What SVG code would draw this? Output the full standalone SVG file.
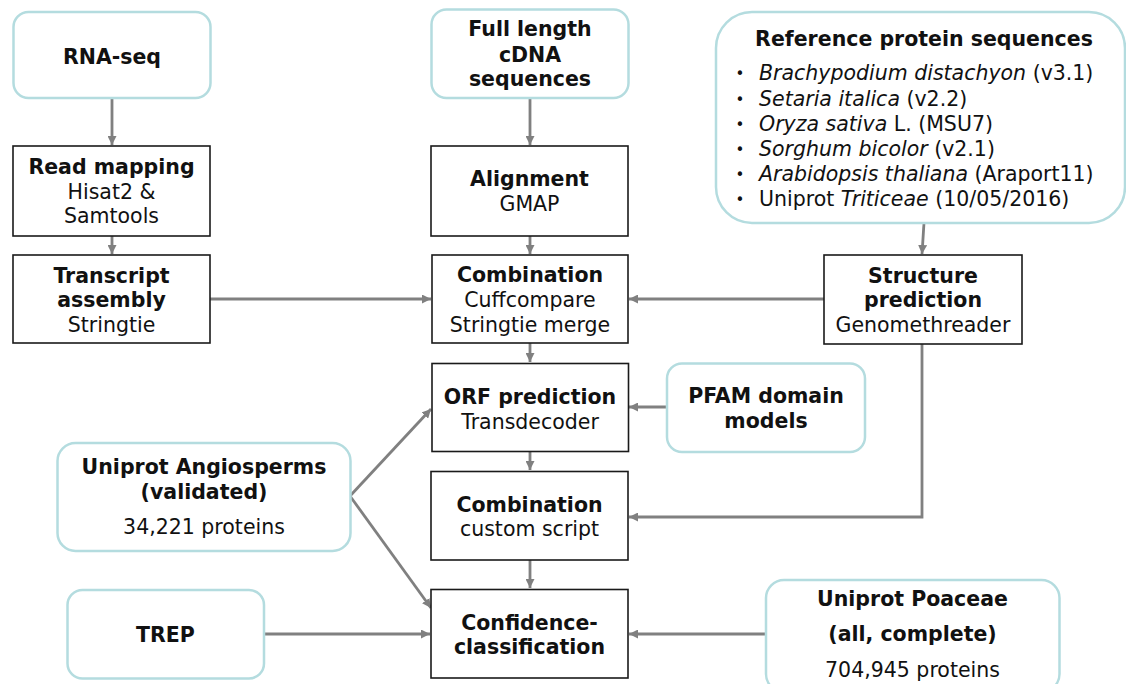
<svg xmlns="http://www.w3.org/2000/svg" width="1126" height="684" viewBox="0 0 1126 684">
<defs>
<style>
text{font-family:"DejaVu Sans",Verdana,sans-serif;font-size:20.5px;fill:#111;text-anchor:middle}
.b{font-weight:bold}
.i{font-style:italic}
.src{fill:#fff;stroke:#b4dcdf;stroke-width:2.5}
.step{fill:#fff;stroke:#1a1a1a;stroke-width:1.6}
.c{fill:none;stroke:#808080;stroke-width:2.8}
.l{text-anchor:start}
.dot{font-size:15px;text-anchor:middle}
</style>
<marker id="ah" viewBox="0 0 10 10" refX="10" refY="5" markerWidth="9" markerHeight="9" markerUnits="userSpaceOnUse" orient="auto">
<path d="M0,0 L10,5 L0,10 Z" fill="#808080"/>
</marker>
</defs>
<rect width="1126" height="684" fill="#fff"/>

<g id="connectors">
<line class="c" x1="112" y1="98" x2="112" y2="145" marker-end="url(#ah)"/>
<line class="c" x1="112" y1="236" x2="112" y2="254" marker-end="url(#ah)"/>
<line class="c" x1="210" y1="299" x2="431" y2="299" marker-end="url(#ah)"/>
<line class="c" x1="530" y1="98" x2="530" y2="145" marker-end="url(#ah)"/>
<line class="c" x1="530" y1="236" x2="530" y2="254" marker-end="url(#ah)"/>
<line class="c" x1="530" y1="343" x2="530" y2="362" marker-end="url(#ah)"/>
<line class="c" x1="530" y1="452" x2="530" y2="470" marker-end="url(#ah)"/>
<line class="c" x1="530" y1="560" x2="530" y2="588" marker-end="url(#ah)"/>
<line class="c" x1="924" y1="223" x2="922" y2="254" marker-end="url(#ah)"/>
<line class="c" x1="824" y1="299" x2="629" y2="299" marker-end="url(#ah)"/>
<line class="c" x1="667" y1="407" x2="629" y2="407" marker-end="url(#ah)"/>
<path class="c" d="M922,344 L922,517 L629,517" stroke-width="3.4" marker-end="url(#ah)"/>
<line class="c" x1="350" y1="496" x2="431" y2="409" marker-end="url(#ah)"/>
<line class="c" x1="350" y1="496" x2="431" y2="608" marker-end="url(#ah)"/>
<line class="c" x1="264" y1="634" x2="430" y2="634" marker-end="url(#ah)"/>
<line class="c" x1="766" y1="634" x2="629" y2="634" marker-end="url(#ah)"/>
</g>

<g id="rnaseq">
<rect class="src" x="13.5" y="12" width="197" height="86" rx="15"/>
<text class="b" x="112" y="64">RNA-seq</text>
</g>
<g id="readmapping">
<rect class="step" x="13" y="146" width="197" height="90"/>
<text class="b" x="111.5" y="174">Read mapping</text>
<text x="111.5" y="198.5">Hisat2 &amp;</text>
<text x="111.5" y="223">Samtools</text>
</g>
<g id="transcript">
<rect class="step" x="13" y="255" width="197" height="88"/>
<text class="b" x="111.5" y="282.5">Transcript</text>
<text class="b" x="111.5" y="307">assembly</text>
<text x="111.5" y="332">Stringtie</text>
</g>

<g id="cdna">
<rect class="src" x="431.5" y="9.5" width="197" height="88.5" rx="15"/>
<text class="b" x="530" y="36">Full length</text>
<text class="b" x="530" y="61.5">cDNA</text>
<text class="b" x="530" y="86">sequences</text>
</g>
<g id="alignment">
<rect class="step" x="431" y="146" width="197" height="90"/>
<text class="b" x="529.5" y="186">Alignment</text>
<text x="529.5" y="210.5">GMAP</text>
</g>
<g id="combination1">
<rect class="step" x="432" y="255" width="196" height="88"/>
<text class="b" x="530" y="281.5">Combination</text>
<text x="530" y="306.5">Cuffcompare</text>
<text x="530" y="331.5">Stringtie merge</text>
</g>
<g id="orf">
<rect class="step" x="432" y="363.5" width="196.5" height="88"/>
<text class="b" x="530" y="403.5">ORF prediction</text>
<text x="530" y="428.5">Transdecoder</text>
</g>
<g id="combination2">
<rect class="step" x="431" y="471.5" width="197" height="88.5"/>
<text class="b" x="529.5" y="511.5">Combination</text>
<text x="529.5" y="535.5">custom script</text>
</g>
<g id="confidence">
<rect class="step" x="431" y="589.5" width="197" height="88.5"/>
<text class="b" x="529.5" y="629.5">Confidence-</text>
<text class="b" x="529.5" y="654">classification</text>
</g>

<g id="reference">
<rect class="src" x="716" y="12" width="409" height="211" rx="36"/>
<text class="b" x="924" y="46">Reference protein sequences</text>
<text class="dot" x="740" y="79">•</text>
<text class="l" x="759" y="80"><tspan class="i">Brachypodium distachyon</tspan> (v3.1)</text>
<text class="dot" x="740" y="104.5">•</text>
<text class="l" x="759" y="105.5"><tspan class="i">Setaria italica</tspan> (v2.2)</text>
<text class="dot" x="740" y="129.5">•</text>
<text class="l" x="759" y="130.5"><tspan class="i">Oryza sativa</tspan> L. (MSU7)</text>
<text class="dot" x="740" y="154.5">•</text>
<text class="l" x="759" y="155.5"><tspan class="i">Sorghum bicolor</tspan> (v2.1)</text>
<text class="dot" x="740" y="180">•</text>
<text class="l" x="759" y="181"><tspan class="i">Arabidopsis thaliana</tspan> (Araport11)</text>
<text class="dot" x="740" y="204.5">•</text>
<text class="l" x="759" y="205.5">Uniprot <tspan class="i">Triticeae</tspan> (10/05/2016)</text>
</g>
<g id="structure">
<rect class="step" x="824" y="255" width="198" height="89"/>
<text class="b" x="923" y="282.5">Structure</text>
<text class="b" x="923" y="307">prediction</text>
<text x="923" y="332">Genomethreader</text>
</g>
<g id="pfam">
<rect class="src" x="667" y="363.5" width="198" height="88.5" rx="15"/>
<text class="b" x="766" y="402.5">PFAM domain</text>
<text class="b" x="766" y="427.5">models</text>
</g>
<g id="angiosperms">
<rect class="src" x="57.5" y="443" width="293" height="108" rx="18"/>
<text class="b" x="204" y="474">Uniprot Angiosperms</text>
<text class="b" x="204" y="498.5">(validated)</text>
<text x="204" y="533.5">34,221 proteins</text>
</g>
<g id="trep">
<rect class="src" x="67.5" y="590" width="196.5" height="88.5" rx="15"/>
<text class="b" x="165.5" y="642">TREP</text>
</g>
<g id="poaceae">
<rect class="src" x="766" y="580" width="293.5" height="112" rx="18"/>
<text class="b" x="912.5" y="606">Uniprot Poaceae</text>
<text class="b" x="912.5" y="641">(all, complete)</text>
<text x="912.5" y="676.5">704,945 proteins</text>
</g>
</svg>
